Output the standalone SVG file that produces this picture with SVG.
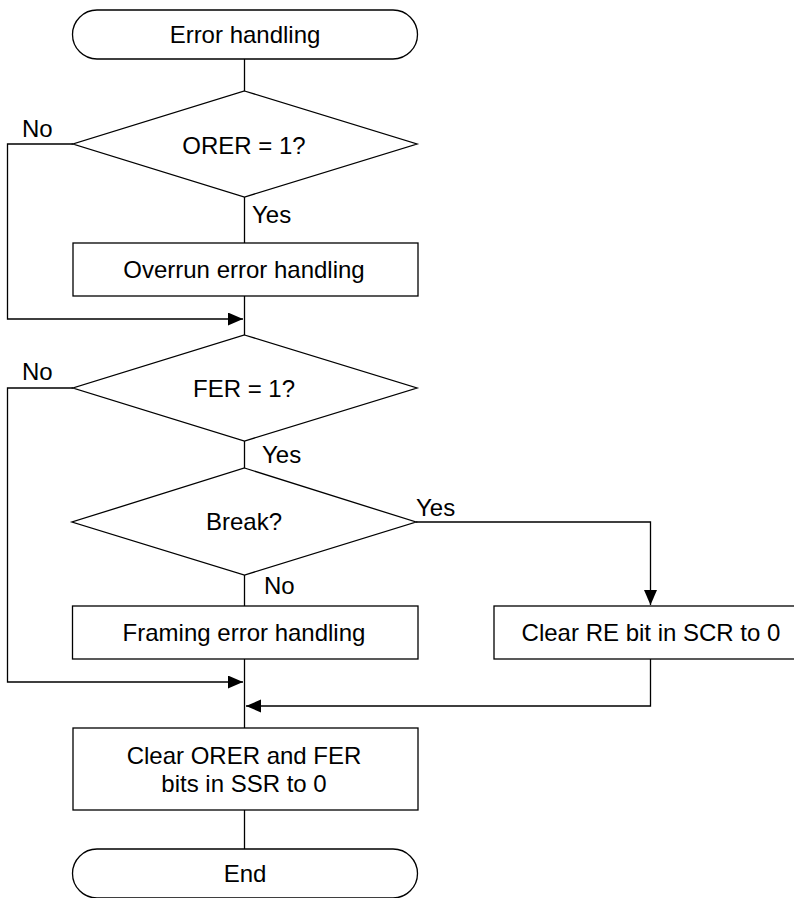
<svg xmlns="http://www.w3.org/2000/svg" width="794" height="898" viewBox="0 0 794 898">
<style>
.s{fill:#fff;stroke:#000;stroke-width:1.3}
.c{fill:none;stroke:#000;stroke-width:1.3}
text{font-family:"Liberation Sans",Arial,sans-serif;font-size:24px;fill:#000}
.m{text-anchor:middle}
</style>
<defs>
<marker id="ah" markerUnits="userSpaceOnUse" markerWidth="16" markerHeight="14" refX="15" refY="6.5" orient="auto">
<path d="M0,0 L15,6.5 L0,13 z" fill="#000"/>
</marker>
</defs>
<g id="connectors">
<path class="c" d="M244.5,59 V91"/>
<path class="c" d="M244.5,197 V243"/>
<path class="c" d="M244.5,296 V335"/>
<path class="c" d="M73,144 H7.5 V319 H243" marker-end="url(#ah)"/>
<path class="c" d="M244.5,441 V468"/>
<path class="c" d="M73,388 H7.5 V682 H243" marker-end="url(#ah)"/>
<path class="c" d="M416,522 H650.5 V605" marker-end="url(#ah)"/>
<path class="c" d="M244.5,575 V606"/>
<path class="c" d="M244.5,659 V728"/>
<path class="c" d="M650.5,659 V706 H246" marker-end="url(#ah)"/>
<path class="c" d="M244.5,810 V849"/>
<text x="22" y="137">No</text>
<text x="252" y="223">Yes</text>
<text x="22" y="380">No</text>
<text x="262" y="463">Yes</text>
<text x="416" y="516">Yes</text>
<text x="264" y="594">No</text>
</g>
<g id="start">
<rect class="s" x="72.5" y="10" width="345" height="49" rx="24.5"/>
<text class="m" x="245" y="43">Error handling</text>
</g>
<g id="d-orer">
<polygon class="s" points="244.5,91 417,144 244.5,197 73,144"/>
<text class="m" x="244" y="154">ORER = 1?</text>
</g>
<g id="b-overrun">
<rect class="s" x="73" y="243" width="345" height="53"/>
<text class="m" x="244" y="278">Overrun error handling</text>
</g>
<g id="d-fer">
<polygon class="s" points="244.5,335 417,388 244.5,441 73,388"/>
<text class="m" x="244" y="397">FER = 1?</text>
</g>
<g id="d-break">
<polygon class="s" points="244.5,468 416,522 244.5,575 72,522"/>
<text class="m" x="244" y="530">Break?</text>
</g>
<g id="b-framing">
<rect class="s" x="72.5" y="606" width="345.5" height="53"/>
<text class="m" x="244" y="641">Framing error handling</text>
</g>
<g id="b-clear-re">
<rect class="s" x="494" y="606" width="320" height="53"/>
<text class="m" x="651" y="641">Clear RE bit in SCR to 0</text>
</g>
<g id="b-clear-orer">
<rect class="s" x="73" y="728" width="345" height="82"/>
<text class="m" x="244" y="764">Clear ORER and FER</text>
<text class="m" x="244" y="792">bits in SSR to 0</text>
</g>
<g id="end">
<rect class="s" x="72.5" y="849" width="345" height="49" rx="24.5"/>
<text class="m" x="245" y="882">End</text>
</g>
</svg>
